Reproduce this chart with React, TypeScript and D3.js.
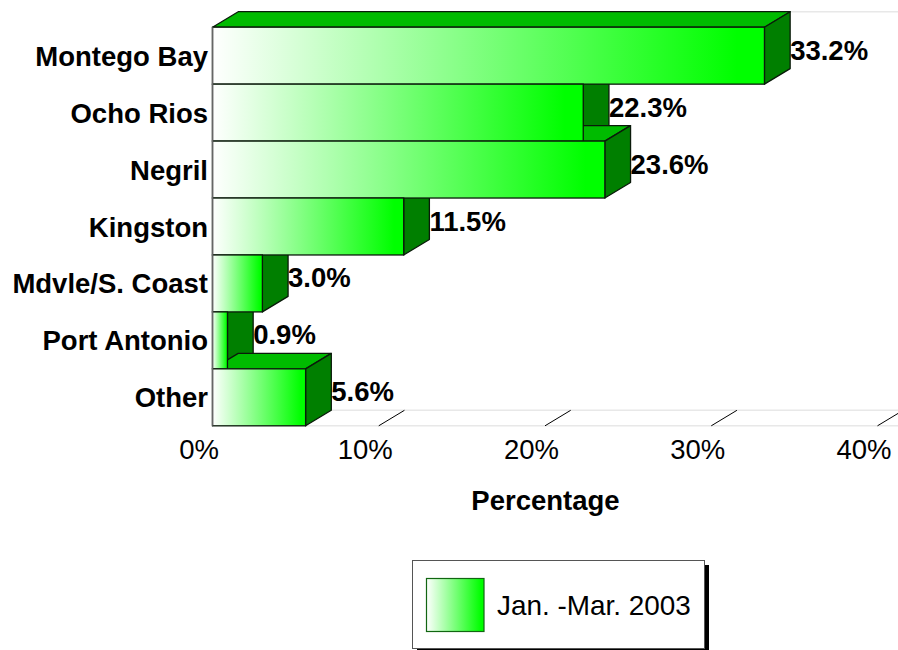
import React from "react";
import * as d3 from "d3";

const categories = ["Montego Bay", "Ocho Rios", "Negril", "Kingston", "Mdvle/S. Coast", "Port Antonio", "Other"];
const values = [33.2, 22.3, 23.6, 11.5, 3.0, 0.9, 5.6];
const xTicks = [0, 10, 20, 30, 40];
const legendLabel = "Jan. -Mar. 2003";

const width = 898;
const height = 650;
const depthX = 25.7;
const depthY = 15.5;
const font = "'Liberation Sans', Arial, sans-serif";
const labelSize = 27.5;
const edge = "#0a1a0a";

const x = d3.scaleLinear().domain([0, 40]).range([212.5, 877.5]);
const y = d3.scaleBand().domain(categories).range([27.2, 425.8]);

export default function App() {
  const x0 = x(0);
  const bottom = y.range()[1];
  const top = y.range()[0];
  return (
    <svg width={width} height={height} style={{ position: "absolute", left: 0, top: 0, display: "block" }} fontFamily={font}>
      <defs>
        <linearGradient id="barFill" x1="0" x2="1" y1="0" y2="0">
          <stop offset="0" stopColor="#ffffff" />
          <stop offset="0.95" stopColor="#00ff00" />
          <stop offset="1" stopColor="#00ff00" />
        </linearGradient>
      </defs>
      <rect width={width} height={height} fill="#fff" />

      {/* pale wall and floor lines */}
      <g stroke="#e8e8e8" strokeWidth={1.5} fill="none">
        <line x1={x0 + depthX} x2={width} y1={top - depthY} y2={top - depthY} />
        <line x1={x0 + depthX} x2={width} y1={bottom - depthY} y2={bottom - depthY} />
        <line x1={x0} x2={width} y1={bottom} y2={bottom} />
      </g>
      {xTicks.map(t => (
        <line key={t} x1={x(t)} x2={x(t) + depthX} y1={bottom} y2={bottom - depthY} stroke="#000" strokeWidth={1} />
      ))}

      {/* side and top faces go first, the upper bar's side under the next bar's top */}
      {categories.map((c, i) => {
        const xe = x(values[i]);
        const yt = y(c) as number;
        const yb = yt + y.bandwidth();
        const topFace = d3.path();
        topFace.moveTo(x0, yt);
        topFace.lineTo(x0 + depthX, yt - depthY);
        topFace.lineTo(xe + depthX, yt - depthY);
        topFace.lineTo(xe, yt);
        topFace.closePath();
        const sideFace = d3.path();
        sideFace.moveTo(xe, yt);
        sideFace.lineTo(xe + depthX, yt - depthY);
        sideFace.lineTo(xe + depthX, yb - depthY);
        sideFace.lineTo(xe, yb);
        sideFace.closePath();
        return (
          <g key={c} stroke={edge} strokeWidth={1.3} strokeLinejoin="round">
            <path d={topFace.toString()} fill="#00bb00" />
            <path d={sideFace.toString()} fill="#007f00" />
          </g>
        );
      })}

      {/* front faces */}
      {categories.map((c, i) => (
        <rect
          key={c}
          x={x0}
          y={y(c) as number}
          width={x(values[i]) - x0}
          height={y.bandwidth()}
          fill="url(#barFill)"
          stroke={edge}
          strokeWidth={1.3}
        />
      ))}
      <line x1={x0} x2={x0} y1={top} y2={bottom} stroke="#666" strokeWidth={1.5} />

      {/* category labels */}
      {categories.map(c => (
        <text key={c} x={208} y={(y(c) as number) + y.bandwidth() / 2 + 10} textAnchor="end" fontSize={labelSize} fontWeight="bold" fill="#000">
          {c}
        </text>
      ))}

      {/* value labels */}
      {categories.map((c, i) => (
        <text key={c} x={x(values[i]) + depthX} y={(y(c) as number) + y.bandwidth() / 2 + 4} fontSize={labelSize} fontWeight="bold" fill="#000">
          {values[i].toFixed(1)}%
        </text>
      ))}

      {/* x axis */}
      {xTicks.map(t => (
        <text key={t} x={x(t) - 13.5} y={458.5} textAnchor="middle" fontSize={labelSize} fill="#000">
          {t}%
        </text>
      ))}
      <text x={545.5} y={509.5} textAnchor="middle" fontSize={labelSize} fontWeight="bold" fill="#000">
        Percentage
      </text>

      {/* legend */}
      <rect x={417} y={565} width={292} height={88} fill="#000" />
      <rect x={412.5} y={560.5} width={292} height={88} fill="#fff" stroke="#555" strokeWidth={1} />
      <rect x={426.5} y={578.5} width={57.5} height={53} fill="url(#barFill)" stroke="#116611" strokeWidth={1.2} />
      <text x={497} y={615} fontSize={27.9} fill="#000">
        {legendLabel}
      </text>
    </svg>
  );
}
